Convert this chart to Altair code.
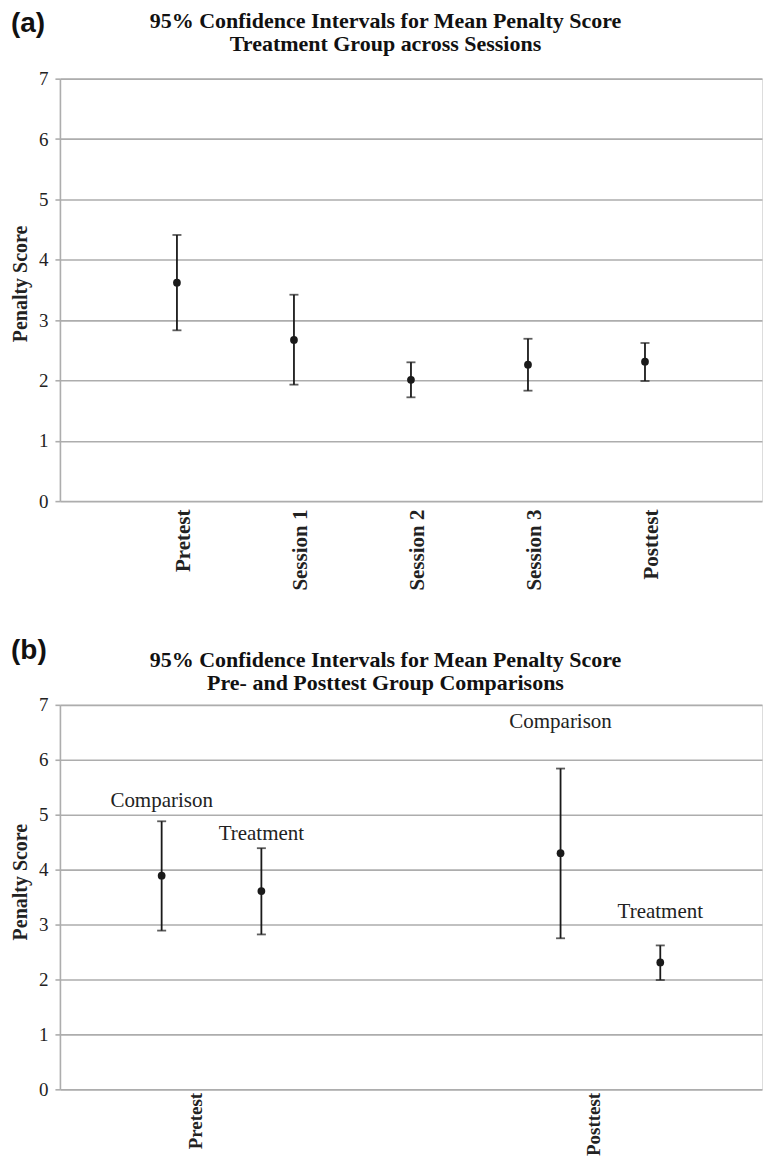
import altair as alt
import pandas as pd

# ---------------- data ----------------
sessions = ["Pretest", "Session 1", "Session 2", "Session 3", "Posttest"]
sess_mean = [3.62, 2.67, 2.01, 2.26, 2.31]
sess_low = [2.83, 1.93, 1.72, 1.83, 1.99]
sess_high = [4.41, 3.42, 2.30, 2.69, 2.62]

tests = ["Pretest", "Pretest", "Posttest", "Posttest"]
groups = ["Comparison", "Treatment", "Comparison", "Treatment"]
grp_mean = [3.89, 3.61, 4.30, 2.31]
grp_low = [2.89, 2.82, 2.75, 1.99]
grp_high = [4.88, 4.39, 5.84, 2.62]
label_at = [5.25, 4.64, 6.69, 3.22]

y_ticks = [0, 1, 2, 3, 4, 5, 6, 7]
test_order = ["Pretest", "Posttest"]
group_order = ["Comparison", "Treatment"]

title_a = ["95% Confidence Intervals for Mean Penalty Score",
           "Treatment Group across Sessions"]
title_b = ["95% Confidence Intervals for Mean Penalty Score",
           "Pre- and Posttest Group Comparisons"]

# ---------------- styling ----------------
SERIF = "Liberation Serif"
SANS = "Liberation Sans"
INK = "#1a1a1a"
GRID = "#adadad"
W = 703

df_a = pd.DataFrame({"Session": sessions, "mean": sess_mean,
                     "low": sess_low, "high": sess_high})
df_b = pd.DataFrame({"Test": tests, "Group": groups, "mean": grp_mean,
                     "low": grp_low, "high": grp_high, "lab": label_at})


def y_enc(field, title_y):
    return alt.Y(field, scale=alt.Scale(domain=[0, 7], nice=False),
                 axis=alt.Axis(title="Penalty Score", values=y_ticks,
                               format="d",
                               labelFont=SERIF, labelFontSize=19,
                               labelColor="#222", labelPadding=7,
                               titleFont=SERIF, titleFontSize=20,
                               titleFontWeight="bold", titleColor="#222",
                               titlePadding=8, titleY=title_y,
                               domainColor=GRID,
                               domainWidth=1.6, gridColor=GRID,
                               gridWidth=1.6, tickColor=GRID, tickSize=5,
                               tickWidth=1.6))


def x_axis(size, pad, shift):
    return alt.Axis(title=None, labelAngle=-90, labelAlign="right",
                    labelBaseline="middle", labelFont=SERIF,
                    labelFontSize=size, labelFontWeight="bold",
                    labelColor="#222", labelPadding=pad, labelOffset=shift,
                    ticks=False, domain=False, grid=False)


def text_at(txt, x, y, font, size, weight="normal", align="center"):
    return alt.Chart(pd.DataFrame({"t": [txt]})).mark_text(
        font=font, fontSize=size, fontWeight=weight, align=align,
        baseline="middle", color="#111").encode(
        x=alt.value(x), y=alt.value(y), text="t:N")


def header(tag, lines, y1, y2, ytag):
    return [
        text_at(tag, -49, ytag, SANS, 28, "bold", "left"),
        text_at(lines[0], 326, y1, SERIF, 22, "bold"),
        text_at(lines[1], 326, y2, SERIF, 22, "bold"),
    ]


# ---------------- panel (a) ----------------
xa = alt.X("Session:N", sort=sessions,
           scale=alt.Scale(type="point", padding=1), axis=x_axis(21, 8, 7))
base_a = alt.Chart(df_a)
rule_a = base_a.mark_rule(color=INK, strokeWidth=1.8).encode(
    x=xa, y=y_enc("low:Q", 205), y2="high:Q")
cap_lo_a = base_a.mark_tick(color=INK, thickness=1.8, size=9).encode(
    x=xa, y="low:Q")
cap_hi_a = base_a.mark_tick(color=INK, thickness=1.8, size=9).encode(
    x=xa, y="high:Q")
dot_a = base_a.mark_circle(color=INK, size=60, opacity=1).encode(
    x=xa, y="mean:Q")

panel_a = alt.layer(rule_a, cap_lo_a, cap_hi_a, dot_a,
                    *header("(a)", title_a, -58, -35, -55)).properties(
    width=W, height=423)

# ---------------- panel (b) ----------------
xb = alt.X("Test:N", sort=test_order,
           scale=alt.Scale(paddingInner=0.5, paddingOuter=0.13),
           axis=x_axis(19, 3, -16))
xo = alt.XOffset("Group:N", sort=group_order,
                 scale=alt.Scale(paddingInner=0, paddingOuter=0))
base_b = alt.Chart(df_b)
rule_b = base_b.mark_rule(color=INK, strokeWidth=1.8).encode(
    x=xb, xOffset=xo, y=y_enc("low:Q", 177), y2="high:Q")
cap_lo_b = base_b.mark_tick(color=INK, thickness=1.8, size=9).encode(
    x=xb, xOffset=xo, y="low:Q")
cap_hi_b = base_b.mark_tick(color=INK, thickness=1.8, size=9).encode(
    x=xb, xOffset=xo, y="high:Q")
dot_b = base_b.mark_circle(color=INK, size=60, opacity=1).encode(
    x=xb, xOffset=xo, y="mean:Q")
lab_b = base_b.mark_text(font=SERIF, fontSize=21, color="#222",
                         baseline="middle", align="center").encode(
    x=xb, xOffset=xo, y="lab:Q", text="Group:N")

panel_b = alt.layer(rule_b, cap_lo_b, cap_hi_b, dot_b, lab_b,
                    *header("(b)", title_b, -45, -22, -54)).properties(
    width=W, height=385)

chart = alt.vconcat(panel_a, panel_b, spacing=45).properties(
    padding={"left": 2, "top": 0, "right": 0, "bottom": 0}
).configure_view(stroke=None).configure(background="white")

chart.save("out.html", embed_options={"renderer": "svg", "actions": False})
